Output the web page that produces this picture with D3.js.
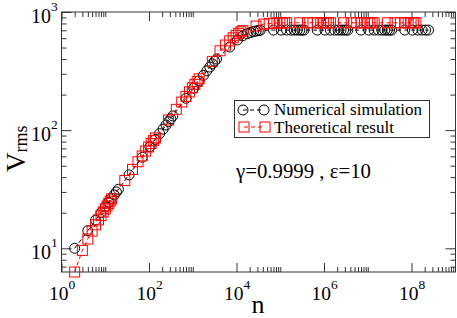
<!DOCTYPE html>
<html>
<head>
<meta charset="utf-8">
<script src="https://cdn.jsdelivr.net/npm/d3@7"></script>
<style>
  body { margin: 0; background: #fff; }
</style>
</head>
<body>
<div class="chart"></div>
<script>
// numerical simulation (circles)
const simN = [2, 4, 6, 8, 10, 12, 14, 16, 18, 20,
  35, 70, 105, 140, 175, 210, 245, 280, 315,
  350, 700, 1050, 1400, 1750, 2100, 2450, 2800, 3150,
  3500, 7000, 10500, 14000, 17500, 21000, 24500, 28000, 31500,
  35000, 70000, 105000, 140000, 175000, 210000, 245000, 280000, 315000,
  3.5e5, 7e5, 1.05e6, 1.4e6, 1.75e6, 2.1e6, 2.45e6, 2.8e6, 3.15e6,
  3.5e6, 7e6, 1.05e7, 1.4e7, 1.75e7, 2.1e7, 2.45e7, 2.8e7, 3.15e7,
  3.5e7, 7e7, 1.05e8, 1.4e8, 1.75e8, 2.1e8, 2.45e8];
const simV = [10, 14.1, 17.3, 20, 22.4, 24.5, 26.5, 28.3, 30, 31.6,
  41.8, 59, 72.5, 83.5, 93.5, 102, 110.5, 118, 125,
  132, 186, 227, 261, 291, 318, 342, 364, 384,
  400, 505, 580, 630, 655, 670, 683, 690, 696,
  700, 703, 703, 703, 703, 703, 703, 703, 703,
  703, 703, 703, 703, 703, 703, 703, 703, 703,
  703, 703, 703, 703, 703, 703, 703, 703, 703,
  703, 703, 703, 703, 703, 703, 703];

// theoretical result (squares)
const theoN = [2, 3, 4, 5, 6, 7, 8, 9, 10, 11, 12, 13,
  14, 28, 42, 56, 70, 84, 98, 112, 126,
  140, 280, 420, 560, 700, 840, 980, 1120, 1260,
  1400, 2800, 4200, 5600, 7000, 8400, 9800, 11200, 12600,
  14000, 28000, 42000, 56000, 70000, 84000, 98000, 112000, 126000,
  1.4e5, 2.8e5, 4.2e5, 5.6e5, 7e5, 8.4e5, 9.8e5, 1.12e6, 1.26e6,
  1.4e6, 2.8e6, 4.2e6, 5.6e6, 7e6, 8.4e6, 9.8e6, 1.12e7, 1.26e7,
  1.4e7, 2.8e7, 4.2e7, 5.6e7, 7e7, 8.4e7, 9.8e7, 1.12e8, 1.26e8];
const theoV = [6.3, 9.6, 12, 14, 15.8, 17.4, 18.9, 20.3, 21.6, 22.8, 24, 25.1,
  26.2, 37.5, 46.5, 54, 60.5, 66.5, 72, 77, 81.5,
  86, 122, 150, 173, 193, 211, 228, 244, 258,
  272, 380, 470, 525, 570, 605, 635, 660, 680,
  695, 760, 790, 800, 805, 808, 810, 810, 810,
  810, 810, 810, 810, 810, 810, 810, 810, 810,
  810, 810, 810, 810, 810, 810, 810, 810, 810,
  810, 810, 810, 810, 810, 810, 810, 810, 810];

const xMajorExp = [0, 2, 4, 6, 8];
const yMajorExp = [1, 2, 3];

const W = 457, H = 318;
const svg = d3.select(".chart").append("svg")
  .attr("width", W).attr("height", H)
  .attr("font-family", "'Liberation Serif', 'Times New Roman', serif");

let x = d3.scaleLog().domain([1, 1e9]).range([61.5, 455.25]);
let y = d3.scaleLog().domain([6.3, 1000]).range([272, 12]);

// minor ticks: 2..10 after each labelled decade
let xMinor = [];
xMajorExp.forEach(e => {
  for (let k = 2; k <= 10; k++) {
    let v = k * Math.pow(10, e);
    if (v < 1e9) xMinor.push(v);
  }
});
let yMinor = [];
[0, 1, 2].forEach(e => {
  for (let k = 2; k <= 9; k++) {
    let v = k * Math.pow(10, e);
    if (v > 6.3 && v < 1000) yMinor.push(v);
  }
});
const xMajor = xMajorExp.map(e => Math.pow(10, e));
const yMajor = yMajorExp.map(e => Math.pow(10, e));

const frame = "#333";

function drawAxis(axis, tr) {
  let g = svg.append("g").attr("transform", tr).call(axis);
  g.select(".domain").remove();
  g.selectAll("line").attr("stroke", frame);
  return g;
}
const atBottom = "translate(0,272)", atTop = "translate(0,12)";
const atLeft = "translate(61.5,0)", atRight = "translate(455.5,0)";
drawAxis(d3.axisBottom(x).tickValues(xMajor).tickSize(-9).tickFormat(""), atBottom);
drawAxis(d3.axisBottom(x).tickValues(xMinor).tickSize(-5).tickFormat(""), atBottom);
drawAxis(d3.axisTop(x).tickValues(xMajor).tickSize(-9).tickFormat(""), atTop);
drawAxis(d3.axisTop(x).tickValues(xMinor).tickSize(-5).tickFormat(""), atTop);
drawAxis(d3.axisLeft(y).tickValues(yMajor).tickSize(-10).tickFormat(""), atLeft);
drawAxis(d3.axisLeft(y).tickValues(yMinor).tickSize(-5).tickFormat(""), atLeft);
drawAxis(d3.axisRight(y).tickValues(yMajor).tickSize(-10).tickFormat(""), atRight);
drawAxis(d3.axisRight(y).tickValues(yMinor).tickSize(-5).tickFormat(""), atRight);

svg.append("rect")
  .attr("x", 61.5).attr("y", 12)
  .attr("width", 394).attr("height", 260)
  .attr("fill", "none").attr("stroke", frame).attr("stroke-width", 1);

// fit a text to the width it has in the picture
function fit(sel, target) {
  let w = sel.node().getComputedTextLength();
  if (w > 0) sel.attr("font-size", +sel.attr("font-size") * target / w);
  return sel;
}

// tick labels 10^k
svg.selectAll(".xlab").data(xMajorExp).enter()
  .append("text").attr("class", "xlab")
  .attr("x", d => x(Math.pow(10, d)) - 12.5)
  .attr("y", 300)
  .attr("font-size", 19.5)
  .each(function (d) {
    d3.select(this).append("tspan").text("10");
    d3.select(this).append("tspan").attr("dy", -11).attr("font-size", 13.5).text(d);
  });

svg.selectAll(".ylab").data(yMajorExp).enter()
  .append("text").attr("class", "ylab")
  .attr("x", 31)
  .attr("y", d => y(Math.pow(10, d)) + 11)
  .attr("font-size", 20)
  .each(function (d) {
    d3.select(this).append("tspan").text("10");
    d3.select(this).append("tspan").attr("dy", -12).attr("font-size", 13.5).text(d);
  });

// axis titles
svg.append("text")
  .attr("x", 258).attr("y", 312.5)
  .attr("text-anchor", "middle")
  .attr("font-size", 26)
  .text("n");

let yl = svg.append("text")
  .attr("transform", "translate(25,172) rotate(-90)")
  .attr("font-size", 27);
yl.append("tspan").text("V");
yl.append("tspan").attr("dy", 1.5).attr("font-size", 18).text("rms");

// curves
const simData = simN.map((n, i) => ({ n: n, v: simV[i] }));
const theoData = theoN.map((n, i) => ({ n: n, v: theoV[i] }));

const line = d3.line().x(d => x(d.n)).y(d => y(d.v));

svg.append("path").datum(simData)
  .attr("d", line)
  .attr("fill", "none").attr("stroke", "#000")
  .attr("stroke-width", 1).attr("stroke-dasharray", "4,3");

svg.append("path").datum(theoData)
  .attr("d", line)
  .attr("fill", "none").attr("stroke", "#f00")
  .attr("stroke-width", 1).attr("stroke-dasharray", "4,3");

svg.selectAll(".circ").data(simData).enter()
  .append("circle").attr("class", "circ")
  .attr("cx", d => x(d.n)).attr("cy", d => y(d.v))
  .attr("r", 5)
  .attr("fill", "none").attr("stroke", "#000").attr("stroke-width", 1);

svg.selectAll(".sq").data(theoData).enter()
  .append("rect").attr("class", "sq")
  .attr("x", d => x(d.n) - 5).attr("y", d => y(d.v) - 5)
  .attr("width", 10).attr("height", 10)
  .attr("fill", "none").attr("stroke", "#f00").attr("stroke-width", 1);

// legend
let leg = svg.append("g");
leg.append("rect")
  .attr("x", 234.5).attr("y", 100.5)
  .attr("width", 195).attr("height", 37)
  .attr("fill", "#fff").attr("stroke", frame);

leg.append("line").attr("x1", 243).attr("x2", 264).attr("y1", 110).attr("y2", 110)
  .attr("stroke", "#000").attr("stroke-dasharray", "4,3");
[243, 264].forEach(cx => leg.append("circle").attr("cx", cx).attr("cy", 110).attr("r", 5)
  .attr("fill", "none").attr("stroke", "#000"));
fit(leg.append("text").attr("x", 274).attr("y", 115).attr("font-size", 16)
  .text("Numerical simulation"), 148);

leg.append("line").attr("x1", 244).attr("x2", 265).attr("y1", 127).attr("y2", 127)
  .attr("stroke", "#f00").attr("stroke-dasharray", "4,3");
[244, 265].forEach(cx => leg.append("rect").attr("x", cx - 5).attr("y", 122).attr("width", 10).attr("height", 10)
  .attr("fill", "none").attr("stroke", "#f00"));
fit(leg.append("text").attr("x", 274).attr("y", 132.5).attr("font-size", 16)
  .text("Theoretical result"), 120);

fit(svg.append("text").attr("x", 236).attr("y", 178).attr("font-size", 17)
  .text("γ=0.9999 , ε=10"), 135);
</script>
</body>
</html>
